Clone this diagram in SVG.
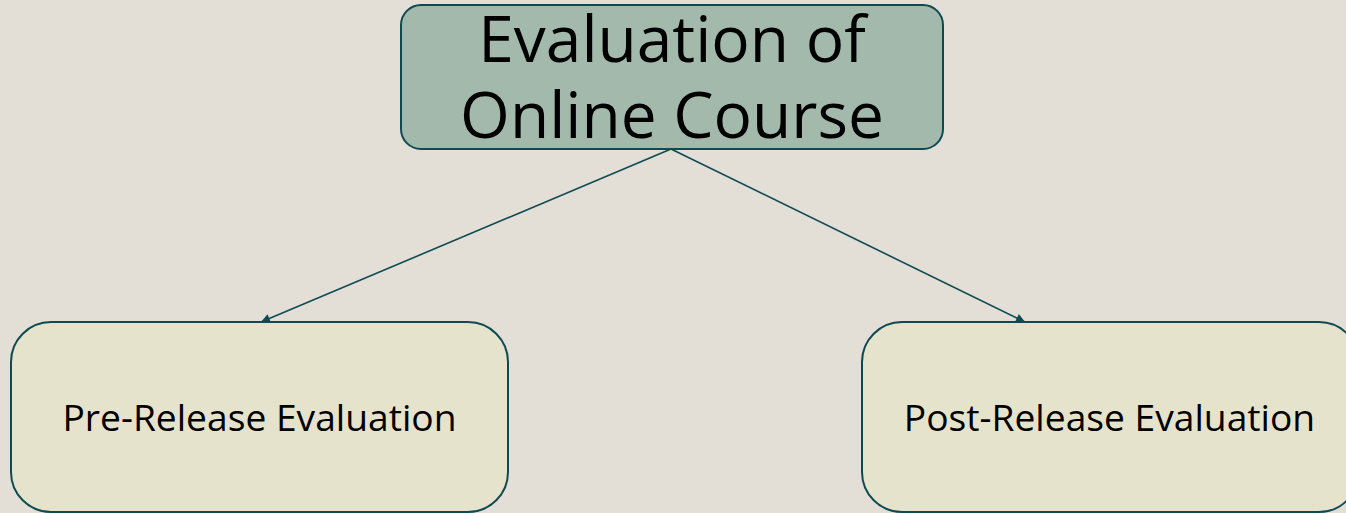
<svg xmlns="http://www.w3.org/2000/svg" width="1346" height="513" viewBox="0 0 1346 513">
<style>
.box{stroke:#0f4a52;stroke-width:2}
.t{font-family:"Open Sans","Noto Sans",sans-serif;fill:#000;text-anchor:middle}
.edge{stroke:#0f4a52;stroke-width:1.6;fill:none}
</style>
<defs>
<marker id="ah" viewBox="0 0 10 10" refX="10" refY="5" markerWidth="10" markerHeight="9" markerUnits="userSpaceOnUse" orient="auto">
<path d="M0,0 L10,5 L0,10 z" fill="#0f4a52"/>
</marker>
</defs>
<rect width="1346" height="513" fill="#e3dfd7"/>
<g id="connectors">
<line class="edge" x1="671" y1="149" x2="261" y2="322" marker-end="url(#ah)"/>
<line class="edge" x1="671" y1="149" x2="1025" y2="322" marker-end="url(#ah)"/>
</g>
<g id="root">
<rect class="box" x="401" y="5" width="542" height="144" rx="20" fill="#a3b9ac"/>
<text class="t" x="672" y="62" font-size="64">Evaluation of</text>
<text class="t" x="672" y="138" font-size="64">Online Course</text>
</g>
<g id="pre">
<rect class="box" x="11" y="322" width="497" height="190" rx="40" fill="#e6e3cc"/>
<text class="t" x="259.5" y="431" font-size="37.2">Pre-Release Evaluation</text>
</g>
<g id="post">
<rect class="box" x="862" y="322" width="497" height="190" rx="40" fill="#e6e3cc"/>
<text class="t" x="1109.5" y="431" font-size="37.2">Post-Release Evaluation</text>
</g>
</svg>
